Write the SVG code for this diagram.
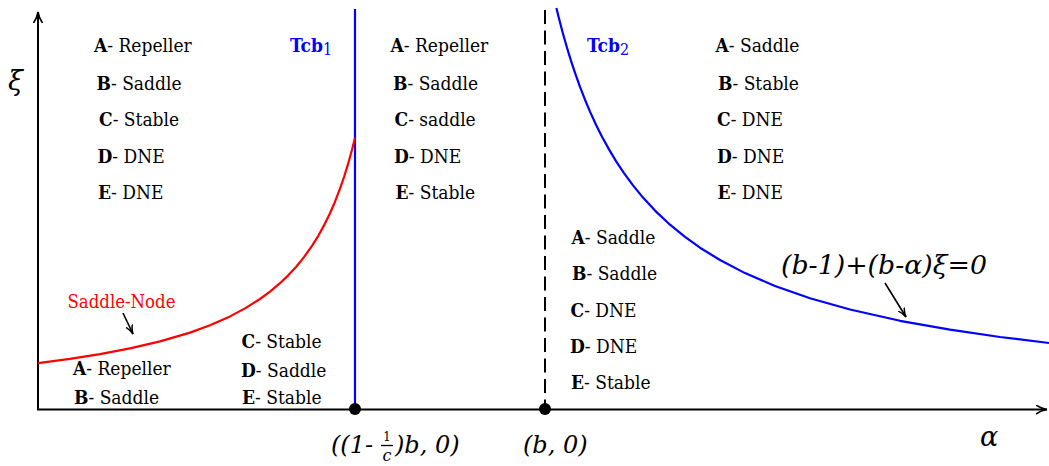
<svg xmlns="http://www.w3.org/2000/svg" width="1049" height="466" viewBox="0 0 1049 466">
<style>
text{font-family:"DejaVu Serif Condensed","DejaVu Serif",serif;font-stretch:condensed;fill:#000}
.lbl{font-size:19px}
.b{font-weight:bold}
.it{font-family:"DejaVu Serif",serif;font-stretch:normal;font-style:italic}
.tcb{font-size:19px;font-weight:bold;fill:#0000ff}
.axis{stroke:#000;stroke-width:2;fill:none}
.ann{stroke:#000;stroke-width:1.6;fill:none}
</style>
<defs>
<marker id="axarrow" viewBox="0 0 12 10" refX="11" refY="5" markerWidth="12" markerHeight="10" markerUnits="userSpaceOnUse" orient="auto">
<path d="M0,0.5 Q5,4 11,5 Q5,6 0,9.5" fill="none" stroke="#000" stroke-width="1.6"/>
</marker>
<marker id="small" viewBox="0 0 10 8" refX="9" refY="4" markerWidth="10" markerHeight="8" markerUnits="userSpaceOnUse" orient="auto">
<path d="M0,0.5 Q4,3.2 9,4 Q4,4.8 0,7.5" fill="none" stroke="#000" stroke-width="1.5"/>
</marker>
</defs>

<g id="axes">
<line class="axis" x1="38" y1="410" x2="38" y2="12" marker-end="url(#axarrow)"/>
<line class="axis" x1="37" y1="409.5" x2="1047" y2="409.5" marker-end="url(#axarrow)"/>
<text class="it" x="8" y="90" font-size="27">ξ</text>
<text class="it" x="980" y="446" font-size="27">α</text>
</g>

<g id="connectors">
<line x1="355" y1="9" x2="355" y2="409" stroke="#0000ff" stroke-width="2.2"/>
<line x1="545" y1="10" x2="545" y2="407" stroke="#000" stroke-width="2" stroke-dasharray="14,6.5"/>
<polyline fill="none" stroke="#ff0000" stroke-width="2.2" stroke-linejoin="round" points="38,363.1 70,358.9 100,354.1 130,348.4 160,341.4 190,332.6 210,325.3 230,316.4 245,308.4 260,299 270,291.6 280,283.2 288,275.6 296,267 304,257.1 312,245.9 318,236.3 324,225.4 330,213.2 335,201.7 340,188.7 344,177.1 348,164.2 352,149.7 355,137.8"/>
<polyline fill="none" stroke="#0000ff" stroke-width="2.2" stroke-linejoin="round" points="556.4,8 557,10.6 559,18.6 561,26.3 563,33.7 566,44.3 569,54.4 572,63.9 576,75.7 580,86.8 585,99.7 590,111.6 596,124.7 602,136.7 609,149.4 616,161.1 624,173.1 633,185.4 643,197.6 655,210.6 670,224.7 685,236.9 700,247.7 720,260 745,273.1 775,286 810,298.2 850,309.5 900,320.8 950,329.7 1000,337 1049,343"/>
<line class="ann" x1="123" y1="313" x2="133" y2="334" marker-end="url(#small)"/>
<line class="ann" x1="885" y1="283" x2="906" y2="317" marker-end="url(#small)"/>
<circle cx="355" cy="409" r="6" fill="#000"/>
<circle cx="545" cy="409" r="6" fill="#000"/>
</g>

<g id="region-left-top">
<text class="lbl" x="94" y="52"><tspan class="b">A</tspan>- Repeller</text>
<text class="lbl" x="96.5" y="89.5"><tspan class="b">B</tspan>- Saddle</text>
<text class="lbl" x="99" y="126"><tspan class="b">C</tspan>- Stable</text>
<text class="lbl" x="97.5" y="162.5"><tspan class="b">D</tspan>- DNE</text>
<text class="lbl" x="98" y="199"><tspan class="b">E</tspan>- DNE</text>
</g>

<g id="tcb1"><text class="tcb" x="290" y="52">Tcb<tspan font-size="16" font-weight="normal" dy="3">1</tspan></text></g>
<g id="tcb2"><text class="tcb" x="587" y="52">Tcb<tspan font-size="16" font-weight="normal" dy="3">2</tspan></text></g>

<g id="region-middle-top">
<text class="lbl" x="390.5" y="52"><tspan class="b">A</tspan>- Repeller</text>
<text class="lbl" x="393" y="89.5"><tspan class="b">B</tspan>- Saddle</text>
<text class="lbl" x="394.5" y="126"><tspan class="b">C</tspan>- saddle</text>
<text class="lbl" x="394" y="162.5"><tspan class="b">D</tspan>- DNE</text>
<text class="lbl" x="395.5" y="199"><tspan class="b">E</tspan>- Stable</text>
</g>

<g id="region-right-top">
<text class="lbl" x="715.5" y="52"><tspan class="b">A</tspan>- Saddle</text>
<text class="lbl" x="718" y="89.5"><tspan class="b">B</tspan>- Stable</text>
<text class="lbl" x="717" y="126"><tspan class="b">C</tspan>- DNE</text>
<text class="lbl" x="717" y="162.5"><tspan class="b">D</tspan>- DNE</text>
<text class="lbl" x="717.5" y="199"><tspan class="b">E</tspan>- DNE</text>
</g>

<g id="region-lower-middle">
<text class="lbl" x="571.5" y="244"><tspan class="b">A</tspan>- Saddle</text>
<text class="lbl" x="572" y="279.5"><tspan class="b">B</tspan>- Saddle</text>
<text class="lbl" x="570.5" y="317"><tspan class="b">C</tspan>- DNE</text>
<text class="lbl" x="570" y="352.5"><tspan class="b">D</tspan>- DNE</text>
<text class="lbl" x="571" y="389"><tspan class="b">E</tspan>- Stable</text>
</g>

<g id="region-bottom-left">
<text class="lbl" x="73" y="375"><tspan class="b">A</tspan>- Repeller</text>
<text class="lbl" x="74" y="403.5"><tspan class="b">B</tspan>- Saddle</text>
</g>

<g id="region-bottom-mid">
<text class="lbl" x="241.5" y="347.5"><tspan class="b">C</tspan>- Stable</text>
<text class="lbl" x="241" y="376.5"><tspan class="b">D</tspan>- Saddle</text>
<text class="lbl" x="242" y="403.5"><tspan class="b">E</tspan>- Stable</text>
</g>

<g id="saddle-node-label">
<text x="67.5" y="307.5" font-size="19" textLength="108" lengthAdjust="spacingAndGlyphs" style="fill:#ff0000">Saddle-Node</text>
</g>

<g id="equation-label">
<text class="it" x="781" y="274" font-size="26" textLength="206" lengthAdjust="spacingAndGlyphs">(b-1)+(b-α)ξ=0</text>
</g>

<g id="point1-label">
<text class="it" x="331" y="453" font-size="24">((1-</text>
<text x="387" y="441" font-size="13" text-anchor="middle">1</text>
<line x1="381" y1="445.5" x2="393" y2="445.5" stroke="#000" stroke-width="1.3"/>
<text class="it" x="387" y="461" font-size="16" text-anchor="middle">c</text>
<text class="it" x="395" y="453" font-size="24">)b, 0)</text>
</g>

<g id="point2-label">
<text class="it" x="523" y="453" font-size="24">(b, 0)</text>
</g>
</svg>
